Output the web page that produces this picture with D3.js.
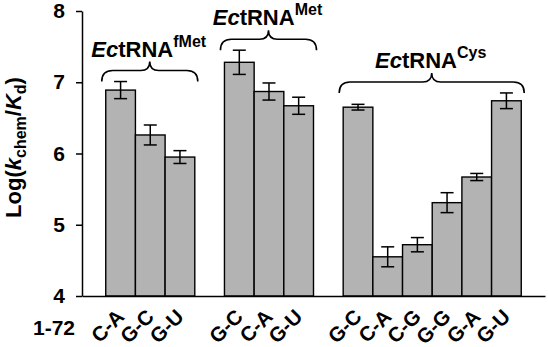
<!DOCTYPE html>
<html>
<head>
<meta charset="utf-8">
<script src="https://cdn.jsdelivr.net/npm/d3@7"></script>
<style>
  html, body { margin: 0; padding: 0; background: #fff; }
  svg { display: block; font-family: "Liberation Sans", Arial, sans-serif; font-weight: bold; }
</style>
</head>
<body>
<div id="chart"></div>
<script>
// tRNA groups, 1-72 base pairs, log(kchem/Kd) and error
const groups  = ["fMet", "Met", "Cys"];
const pairs   = [["C-A", "G-C", "G-U"], ["G-C", "C-A", "G-U"], ["G-C", "C-A", "C-G", "G-G", "G-A", "G-U"]];
const values  = [[6.89, 6.26, 5.95], [7.28, 6.87, 6.67], [6.65, 4.55, 4.72, 5.31, 5.67, 6.74]];
const errors  = [[0.12, 0.14, 0.09], [0.17, 0.12, 0.12], [0.04, 0.14, 0.10, 0.14, 0.05, 0.11]];
const yTicks  = [4, 5, 6, 7, 8];
const xTitle  = "1-72";

const W = 548, H = 347;
const M = { top: 11, right: 3, bottom: 51, left: 82 };

const svg = d3.select("#chart").append("svg").attr("width", W).attr("height", H);

// flatten into slots, with one empty slot between groups
const slots = [], bars = [];
groups.forEach((g, gi) => {
  if (gi > 0) slots.push("gap" + gi);
  pairs[gi].forEach((p, i) => {
    const id = g + "-" + i;
    slots.push(id);
    bars.push({ id, group: gi, pair: p, v: values[gi][i], e: errors[gi][i] });
  });
});

const x = d3.scaleBand().domain(slots).range([M.left, W - M.right]).paddingInner(0).paddingOuter(0.8);
const y = d3.scaleLinear().domain([4, 8]).range([H - M.bottom, M.top]);
const bw = x.bandwidth();

// bars
svg.append("g").selectAll("rect").data(bars).join("rect")
  .attr("x", d => x(d.id)).attr("y", d => y(d.v))
  .attr("width", bw).attr("height", d => y(4) - y(d.v))
  .attr("fill", "#b3b3b3").attr("stroke", "#000").attr("stroke-width", 1.4);

// error bars
const eb = svg.append("g").attr("stroke", "#000").attr("stroke-width", 1.5);
bars.forEach(d => {
  const cx = x(d.id) + bw / 2, cap = 6.5;
  eb.append("line").attr("x1", cx).attr("x2", cx).attr("y1", y(d.v + d.e)).attr("y2", y(d.v - d.e));
  eb.append("line").attr("x1", cx - cap).attr("x2", cx + cap).attr("y1", y(d.v + d.e)).attr("y2", y(d.v + d.e));
  eb.append("line").attr("x1", cx - cap).attr("x2", cx + cap).attr("y1", y(d.v - d.e)).attr("y2", y(d.v - d.e));
});

// axes
const ya = svg.append("g").attr("transform", `translate(${M.left},0)`)
  .call(d3.axisLeft(y).tickValues(yTicks).tickSize(6).tickSizeOuter(0).tickPadding(11).tickFormat(d3.format("d")));
svg.append("g").attr("transform", `translate(0,${y(4)})`)
  .call(d3.axisBottom(x).tickValues([]).tickSizeOuter(0));
svg.selectAll(".domain, .tick line").attr("stroke", "#000").attr("stroke-width", 1.5);
ya.selectAll("text").attr("font-size", 21).attr("font-weight", "bold").attr("fill", "#000")
  .attr("font-family", "Liberation Sans, Arial, sans-serif");

// x tick labels
svg.append("g").selectAll("text").data(bars).join("text")
  .attr("transform", d => `translate(${x(d.id) + bw / 2 + 5},${y(4) + 22}) rotate(-45)`)
  .attr("text-anchor", "end").attr("font-size", 20.5).text(d => d.pair);
svg.append("text").attr("x", 75).attr("y", 335).attr("text-anchor", "end")
  .attr("font-size", 21).text(xTitle);

// y title
const yt = svg.append("text").attr("transform", `translate(21,${(y(4) + y(8)) / 2 - 6}) rotate(-90)`)
  .attr("text-anchor", "middle").attr("font-size", 22);
yt.append("tspan").text("Log(");
yt.append("tspan").attr("font-style", "italic").text("k");
yt.append("tspan").attr("font-size", 16).attr("dy", 5).text("chem");
yt.append("tspan").attr("dy", -5).text("/");
yt.append("tspan").attr("font-style", "italic").text("K");
yt.append("tspan").attr("font-size", 16).attr("dy", 5).text("d");
yt.append("tspan").attr("dy", -5).text(")");

// group braces + titles
function bracePath(x0, x1, yh) {
  const cx = (x0 + x1) / 2, r = 11, tip = 9;
  return `M${x0},${yh + r} Q${x0},${yh} ${x0 + r},${yh} L${cx - 9},${yh} Q${cx},${yh} ${cx},${yh - tip}` +
         ` Q${cx},${yh} ${cx + 9},${yh} L${x1 - r},${yh} Q${x1},${yh} ${x1},${yh + r}`;
}
groups.forEach((g, gi) => {
  const gb = bars.filter(d => d.group === gi);
  const x0 = x(gb[0].id) - 4, x1 = x(gb[gb.length - 1].id) + bw + 3;
  const yh = y(d3.max(gb, d => d.v + d.e)) - 11;
  svg.append("path").attr("d", bracePath(x0, x1, yh))
    .attr("fill", "none").attr("stroke", "#000").attr("stroke-width", 1.6);
  const t = svg.append("text").attr("x", (x0 + x1) / 2 - 1).attr("y", yh - 14)
    .attr("text-anchor", "middle").attr("font-size", 22);
  t.append("tspan").attr("font-style", "italic").text("Ec");
  t.append("tspan").text("tRNA");
  t.append("tspan").attr("font-size", 16).attr("dy", -10).text(g);
});
</script>
</body>
</html>
